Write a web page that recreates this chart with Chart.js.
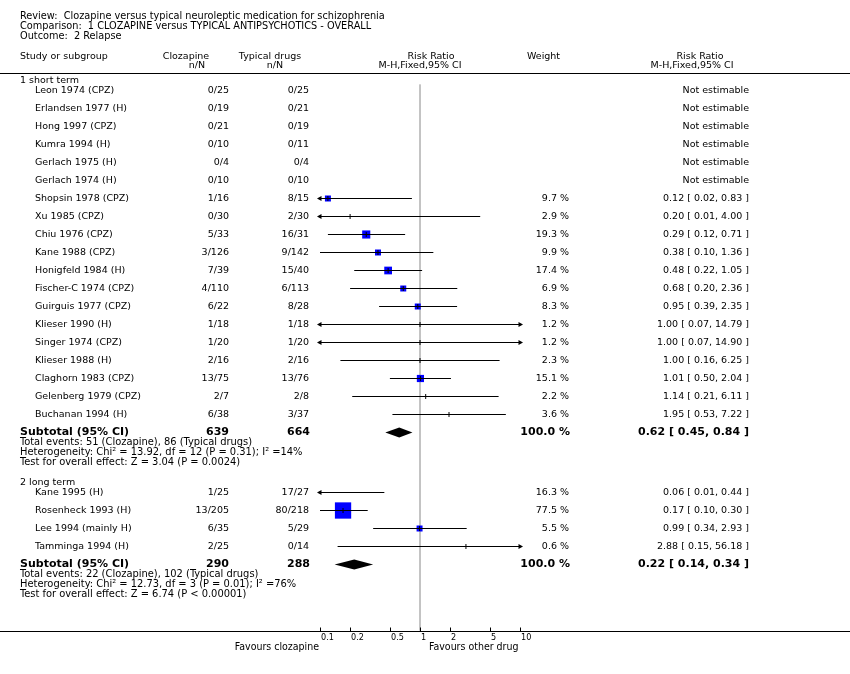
<!DOCTYPE html>
<html><head><meta charset="utf-8">
<script src="https://cdn.jsdelivr.net/npm/chart.js@4.4.1/dist/chart.umd.min.js"></script>
<style>html,body{margin:0;padding:0;background:#fff}canvas{display:block}</style>
</head><body>
<canvas id="c" width="850" height="674"></canvas>
<script>
// ---------- data ----------
const titleLines = [
  "Review:  Clozapine versus typical neuroleptic medication for schizophrenia",
  "Comparison:  1 CLOZAPINE versus TYPICAL ANTIPSYCHOTICS - OVERALL",
  "Outcome:  2 Relapse"
];
const groupNames = ["1 short term", "2 long term"];

const studies1 = ["Leon 1974 (CPZ)","Erlandsen 1977 (H)","Hong 1997 (CPZ)","Kumra 1994 (H)","Gerlach 1975 (H)","Gerlach 1974 (H)","Shopsin 1978 (CPZ)","Xu 1985 (CPZ)","Chiu 1976 (CPZ)","Kane 1988 (CPZ)","Honigfeld 1984 (H)","Fischer-C 1974 (CPZ)","Guirguis 1977 (CPZ)","Klieser 1990 (H)","Singer 1974 (CPZ)","Klieser 1988 (H)","Claghorn 1983 (CPZ)","Gelenberg 1979 (CPZ)","Buchanan 1994 (H)"];
const cloz1 = ["0/25","0/19","0/21","0/10","0/4","0/10","1/16","0/30","5/33","3/126","7/39","4/110","6/22","1/18","1/20","2/16","13/75","2/7","6/38"];
const typ1 = ["0/25","0/21","0/19","0/11","0/4","0/10","8/15","2/30","16/31","9/142","15/40","6/113","8/28","1/18","1/20","2/16","13/76","2/8","3/37"];
const weight1 = [null,null,null,null,null,null,9.7,2.9,19.3,9.9,17.4,6.9,8.3,1.2,1.2,2.3,15.1,2.2,3.6];
const rr1 = [null,null,null,null,null,null,0.12,0.20,0.29,0.38,0.48,0.68,0.95,1.00,1.00,1.00,1.01,1.14,1.95];
const lo1 = [null,null,null,null,null,null,0.02,0.01,0.12,0.10,0.22,0.20,0.39,0.07,0.07,0.16,0.50,0.21,0.53];
const hi1 = [null,null,null,null,null,null,0.83,4.00,0.71,1.36,1.05,2.36,2.35,14.79,14.90,6.25,2.04,6.11,7.22];
const subtotal1 = {cloz:"639", typ:"664", rr:0.62, lo:0.45, hi:0.84};
const notes1 = ["Total events: 51 (Clozapine), 86 (Typical drugs)",
  "Heterogeneity: Chi\u00b2 = 13.92, df = 12 (P = 0.31); I\u00b2 =14%",
  "Test for overall effect: Z = 3.04 (P = 0.0024)"];

const studies2 = ["Kane 1995 (H)","Rosenheck 1993 (H)","Lee 1994 (mainly H)","Tamminga 1994 (H)"];
const cloz2 = ["1/25","13/205","6/35","2/25"];
const typ2 = ["17/27","80/218","5/29","0/14"];
const weight2 = [16.3,77.5,5.5,0.6];
const rr2 = [0.06,0.17,0.99,2.88];
const lo2 = [0.01,0.10,0.34,0.15];
const hi2 = [0.44,0.30,2.93,56.18];
const subtotal2 = {cloz:"290", typ:"288", rr:0.22, lo:0.14, hi:0.34};
const notes2 = ["Total events: 22 (Clozapine), 102 (Typical drugs)",
  "Heterogeneity: Chi\u00b2 = 12.73, df = 3 (P = 0.01); I\u00b2 =76%",
  "Test for overall effect: Z = 6.74 (P < 0.00001)"];

const axisTicks = [0.1, 0.2, 0.5, 1, 2, 5, 10];
const axisTickLabels = ["0.1","0.2","0.5","1","2","5","10"];
const favLeft = "Favours clozapine";
const favRight = "Favours other drug";

// ---------- layout ----------
const XMIN = 0.1, XMAX = 10;
const ROW = 18, NOTE = 10;
const groups = [
  {name:groupNames[0], studies:studies1, cloz:cloz1, typ:typ1, w:weight1, rr:rr1, lo:lo1, hi:hi1, sub:subtotal1, notes:notes1},
  {name:groupNames[1], studies:studies2, cloz:cloz2, typ:typ2, w:weight2, rr:rr2, lo:lo2, hi:hi2, sub:subtotal2, notes:notes2}
];
let yy = 80;
groups.forEach(g => {
  g.headerY = yy;
  g.rowY = g.studies.map((s,i) => yy + NOTE + i*ROW);
  g.subY = yy + NOTE + g.studies.length*ROW;
  g.noteY = g.notes.map((n,i) => g.subY + NOTE*(i+1));
  yy = g.noteY[g.noteY.length-1] + 2*NOTE;
});
const AXIS_Y = 630;

const fmt = v => v.toFixed(2);
const rrText = (r,l,h) => fmt(r) + " [ " + fmt(l) + ", " + fmt(h) + " ]";
const sideFor = w => (w == null || w < 4) ? 0 : Math.max(6, 1.85*Math.sqrt(w));

// ---------- datasets ----------
const squares = [], squareR = [], ticks = [], ciLines = [], leftArrows = [], rightArrows = [];
groups.forEach(g => {
  g.studies.forEach((s,i) => {
    if (g.rr[i] == null) return;
    const y = g.rowY[i];
    const inRange = g.rr[i] >= XMIN && g.rr[i] <= XMAX;
    if (inRange) {
      const side = sideFor(g.w[i]);
      if (side > 0) { squares.push({x:g.rr[i], y}); squareR.push(side/Math.SQRT2); }
      ticks.push({x:g.rr[i], y});
    }
    const a = Math.max(g.lo[i], XMIN), b = Math.min(g.hi[i], XMAX);
    ciLines.push({x:a, y}, {x:b, y}, {x:null, y:null});
    if (g.lo[i] < XMIN) leftArrows.push({x:XMIN, y});
    if (g.hi[i] > XMAX) rightArrows.push({x:XMAX, y});
  });
});
const refLine = [{x:1, y:84}, {x:1, y:AXIS_Y}];

// ---------- text / decoration plugin ----------
const F = "'DejaVu Sans', sans-serif";
const FC = "'DejaVu Sans Condensed', 'DejaVu Sans', sans-serif";
const forestPlugin = {
  id: 'forest',
  afterDatasetsDraw(chart) {
    const ctx = chart.ctx, xs = chart.scales.x, ys = chart.scales.y;
    const X = v => xs.getPixelForValue(v), Y = v => ys.getPixelForValue(v);
    ctx.save();
    // diamonds
    ctx.fillStyle = '#000';
    groups.forEach(g => {
      const y = Y(g.subY);
      ctx.beginPath();
      ctx.moveTo(X(g.sub.lo), y);
      ctx.lineTo(X(g.sub.rr), y - 5);
      ctx.lineTo(X(g.sub.hi), y);
      ctx.lineTo(X(g.sub.rr), y + 5);
      ctx.closePath();
      ctx.fill();
    });
    // rules
    ctx.strokeStyle = '#000'; ctx.lineWidth = 1;
    ctx.beginPath(); ctx.moveTo(0, 73.5); ctx.lineTo(850, 73.5); ctx.stroke();
    const ay = Math.round(Y(AXIS_Y)) + 0.5;
    ctx.beginPath(); ctx.moveTo(0, ay); ctx.lineTo(850, ay); ctx.stroke();
    axisTicks.forEach(t => {
      const x = Math.round(X(t)) + 0.5;
      ctx.beginPath(); ctx.moveTo(x, ay - 4); ctx.lineTo(x, ay); ctx.stroke();
    });
    // text
    ctx.fillStyle = '#000';
    ctx.textBaseline = 'middle';
    const txt = (s, x, y, align, font) => { ctx.font = font; ctx.textAlign = align; ctx.fillText(s, x, y); };
    const fN = "9.5px " + F, fT = "9.75px " + F, fC = "11px " + FC, fB = "bold 11px " + F;
    titleLines.forEach((s,i) => txt(s, 20, 16 + i*10, 'left', fT));
    txt("Study or subgroup", 20, 57, 'left', fN);
    txt("Clozapine", 186, 57, 'center', fN);
    txt("n/N", 197, 66, 'center', fN);
    txt("Typical drugs", 270, 57, 'center', fN);
    txt("n/N", 275, 66, 'center', fN);
    txt("Risk Ratio", 431, 57, 'center', fN);
    txt("M-H,Fixed,95% CI", 420, 66, 'center', fN);
    txt("Weight", 527, 57, 'left', fN);
    txt("Risk Ratio", 700, 57, 'center', fN);
    txt("M-H,Fixed,95% CI", 692, 66, 'center', fN);
    groups.forEach(g => {
      txt(g.name, 20, Y(g.headerY), 'left', fN);
      g.studies.forEach((s,i) => {
        const y = Y(g.rowY[i]);
        txt(s, 35, y, 'left', fN);
        txt(g.cloz[i], 229, y, 'right', fN);
        txt(g.typ[i], 309, y, 'right', fN);
        if (g.rr[i] == null) {
          txt("Not estimable", 749, y, 'right', fN);
        } else {
          txt(g.w[i].toFixed(1) + " %", 569, y, 'right', fN);
          txt(rrText(g.rr[i], g.lo[i], g.hi[i]), 749, y, 'right', fN);
        }
      });
      const sy = Y(g.subY);
      txt("Subtotal (95% CI)", 20, sy, 'left', fB);
      txt(g.sub.cloz, 229, sy, 'right', fB);
      txt(g.sub.typ, 310, sy, 'right', fB);
      txt("100.0 %", 570, sy, 'right', fB);
      txt(rrText(g.sub.rr, g.sub.lo, g.sub.hi), 749, sy, 'right', fB);
      g.notes.forEach((n,i) => txt(n, 20, Y(g.noteY[i]), 'left', fC));
    });
    axisTicks.forEach((t,i) => txt(axisTickLabels[i], Math.round(X(t)) + 1, ay + 6, 'left', "9px " + FC));
    txt(favLeft, X(XMIN) - 1, ay + 16, 'right', "10.5px " + FC);
    txt(favRight, 429, ay + 16, 'left', "10.5px " + FC);
    ctx.restore();
  }
};

new Chart(document.getElementById('c'), {
  type: 'scatter',
  data: { datasets: [
    { label:'ticks', data:ticks, order:1, pointStyle:'line', rotation:90, pointRadius:2.5, borderColor:'#000', borderWidth:1, showLine:false, clip:false },
    { label:'leftArrows', data:leftArrows, order:1, pointStyle:'triangle', rotation:-90, pointRadius:3, backgroundColor:'#000', borderColor:'#000', borderWidth:0, showLine:false, clip:false },
    { label:'rightArrows', data:rightArrows, order:1, pointStyle:'triangle', rotation:90, pointRadius:3, backgroundColor:'#000', borderColor:'#000', borderWidth:0, showLine:false, clip:false },
    { label:'ci', data:ciLines, order:2, showLine:true, spanGaps:false, borderColor:'#000', borderWidth:1, pointRadius:0, clip:false },
    { label:'squares', data:squares, order:3, pointStyle:'rect', pointRadius:squareR, backgroundColor:'#0000ff', borderWidth:0, showLine:false, clip:false },
    { label:'ref', data:refLine, order:4, showLine:true, borderColor:'#bbbbbb', borderWidth:1, pointRadius:0, clip:false }
  ]},
  options: {
    responsive:false, animation:false, events:[],
    layout:{ autoPadding:false, padding:{ left:320, right:330, top:0, bottom:674-630 } },
    plugins:{ legend:{display:false}, tooltip:{enabled:false} },
    scales:{
      x:{ type:'logarithmic', min:XMIN, max:XMAX, display:false },
      y:{ type:'linear', min:-0.5, max:629.5, reverse:true, display:false }
    }
  },
  plugins:[forestPlugin]
});
</script>
</body></html>
